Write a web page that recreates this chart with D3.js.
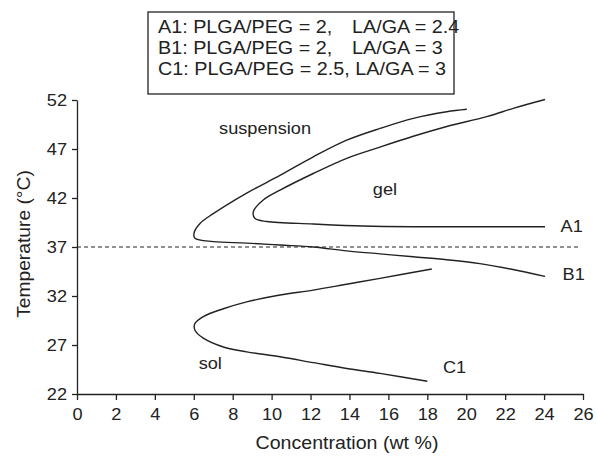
<!DOCTYPE html>
<html><head><meta charset="utf-8">
<script src="https://cdn.jsdelivr.net/npm/d3@7"></script>
<style>
html,body{margin:0;padding:0;background:#fff;}
svg text{font-family:"Liberation Sans",Arial,sans-serif;fill:#222;}
</style></head>
<body><svg id="c" width="596" height="457"></svg>
<script>
// ---- data ----
const xTicks = [0,2,4,6,8,10,12,14,16,18,20,22,24,26];
const yTicks = [22,27,32,37,42,47,52];
const curveA1 = [[24.05,52.05],[22.5,51.2],[21.05,50.3],[19.0,49.3],[17.28,48.3],[15.57,47.2],[13.86,46.05],[12.14,44.5],[10.43,42.8],[9.57,41.8],[9.06,40.6],[9.15,39.9],[9.75,39.6],[12.14,39.35],[14.7,39.14],[17.28,39.07],[20.7,39.07],[24.05,39.07]];
const curveB1 = [[20.03,51.05],[19.0,50.8],[17.28,50.13],[15.57,49.1],[13.86,47.9],[12.14,46.2],[10.43,44.3],[8.72,42.5],[7.0,40.4],[6.32,39.4],[6.01,38.4],[6.06,37.9],[7.0,37.55],[8.72,37.4],[10.43,37.2],[12.14,37.0],[13.86,36.6],[15.57,36.3],[17.28,36.0],[19.0,35.7],[20.7,35.3],[22.4,34.7],[24.05,34.0]];
const curveC1 = [[18.23,34.76],[15.57,33.8],[13.86,33.2],[12.14,32.6],[10.43,32.1],[8.72,31.4],[7.52,30.7],[6.49,29.9],[6.06,29.2],[6.06,28.5],[6.49,27.7],[7.52,26.8],[8.72,26.3],[10.43,25.8],[12.14,25.2],[13.86,24.6],[15.57,24.1],[18.0,23.3]];
const refTemp = 37;
const legendLeft = ["A1: PLGA/PEG = 2,","B1: PLGA/PEG = 2,","C1: PLGA/PEG = 2.5, LA/GA = 3"];
const legendRight = ["LA/GA = 2.4","LA/GA = 3",""];
const regionLabels = [{t:"suspension",x:7.3,y:48.5},{t:"gel",x:15.2,y:42.3},{t:"sol",x:6.25,y:24.6}];
const curveLabels = [{t:"A1",x:24.85,y:38.5},{t:"B1",x:24.95,y:33.6},{t:"C1",x:18.8,y:24.1}];

// ---- drawing ----
const SX = 1.07;
const svg = d3.select("#c");
const x = d3.scaleLinear().domain([0,26]).range([77,583]);
const y = d3.scaleLinear().domain([22,52]).range([394,100]);
const ink = "#222";

function txt(px,py,s,anchor,size,sx){
  return svg.append("text").attr("transform",`translate(${px},${py}) scale(${sx||SX},1)`)
    .attr("text-anchor",anchor||"start").style("font-size",(size||17)+"px").text(s);
}

// axes
const gx = svg.append("g").attr("transform",`translate(0,${y(22)})`)
  .call(d3.axisBottom(x).tickValues(xTicks).tickSize(6).tickSizeOuter(0).tickPadding(8).tickFormat(d3.format("d")));
const gy = svg.append("g").attr("transform",`translate(${x(0)},0)`)
  .call(d3.axisLeft(y).tickValues(yTicks).tickSize(5).tickSizeOuter(0).tickPadding(10).tickFormat(d3.format("d")));
[gx,gy].forEach(g=>{
  g.select(".domain").attr("stroke",ink).attr("stroke-width",1.3);
  g.selectAll(".tick line").attr("stroke",ink).attr("stroke-width",1.3);
  g.selectAll(".tick text").style("font-size","17px").style("font-family","Liberation Sans, Arial, sans-serif").attr("fill",ink);
});
gx.selectAll(".tick text").attr("transform",`scale(${SX},1)`);
gy.selectAll(".tick text").attr("transform",`scale(${SX},1)`).attr("x",-10/SX);

// reference line
svg.append("line").attr("x1",x(0)).attr("x2",x(25.8)).attr("y1",y(refTemp)).attr("y2",y(refTemp))
  .attr("stroke",ink).attr("stroke-width",1).attr("stroke-dasharray","4,3");

// curves
const line = d3.line().x(d=>x(d[0])).y(d=>y(d[1])).curve(d3.curveCatmullRom.alpha(0.5));
[curveA1,curveB1,curveC1].forEach(c=>{
  svg.append("path").attr("d",line(c)).attr("fill","none").attr("stroke",ink).attr("stroke-width",1.4);
});

// labels
regionLabels.forEach(l=>txt(x(l.x),y(l.y),l.t,"start",17));
curveLabels.forEach(l=>txt(x(l.x),y(l.y),l.t,"start",17));

// axis titles
txt(347,449,"Concentration (wt %)","middle",17.5,1.12);
svg.append("text").attr("transform",`translate(30,244) rotate(-90) scale(1.1,1)`)
  .attr("text-anchor","middle").style("font-size","17.5px").text("Temperature (°C)");

// legend
svg.append("rect").attr("x",148).attr("y",12).attr("width",306).attr("height",82)
  .attr("fill","#fff").attr("stroke",ink).attr("stroke-width",1.3);
const base = [33,54,75];
legendLeft.forEach((s,i)=>txt(158,base[i],s,"start",18.5));
legendRight.forEach((s,i)=>{ if(s) txt(352,base[i],s,"start",18.5); });
</script></body></html>
